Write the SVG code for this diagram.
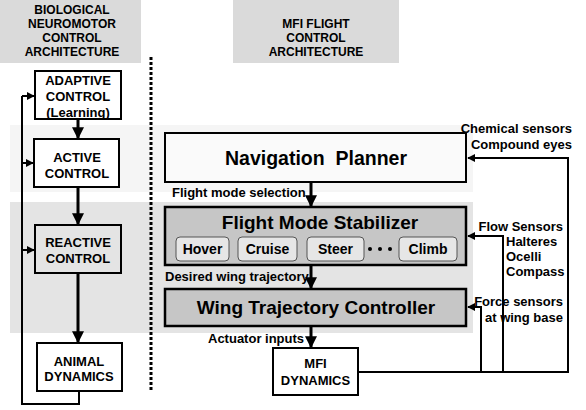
<svg xmlns="http://www.w3.org/2000/svg" width="586" height="410" viewBox="0 0 586 410">
<defs>
<style>
text{font-family:"Liberation Sans",Arial,sans-serif;font-weight:bold;fill:#000}
.hd{font-size:12px;text-anchor:middle}
.nt{font-size:13px;text-anchor:middle}
.big{font-size:19px;text-anchor:middle}
.sub{font-size:14px;text-anchor:middle}
.lb{font-size:13px}
.box{fill:#fff;stroke:#000;stroke-width:2}
.gbox{fill:#c6c6c6;stroke:#000;stroke-width:2.5}
.sbox{fill:#e6e6e6;stroke:#555;stroke-width:1}
.thick{stroke:#000;stroke-width:3;fill:none}
.thin{stroke:#000;stroke-width:2;fill:none}
</style>
<marker id="ah" viewBox="0 0 10 10" refX="9" refY="5" markerWidth="4" markerHeight="4" orient="auto" markerUnits="strokeWidth"><path d="M0,0 L10,5 L0,10 z" fill="#000"/></marker>
<marker id="ahs" viewBox="0 0 10 10" refX="9" refY="5" markerWidth="4" markerHeight="4" orient="auto" markerUnits="strokeWidth"><path d="M0,0 L10,5 L0,10 z" fill="#000"/></marker>
</defs>

<!-- background bands -->
<rect x="0" y="0" width="141" height="63" fill="#dadada"/>
<rect x="233" y="0" width="166" height="63" fill="#dadada"/>
<rect x="10" y="125" width="463" height="67" fill="#f5f5f5"/>
<rect x="10" y="202" width="463" height="131" fill="#e4e4e4"/>

<g id="hdr-left">
<text class="hd" x="72" y="14">BIOLOGICAL</text>
<text class="hd" x="72" y="28">NEUROMOTOR</text>
<text class="hd" x="72" y="42">CONTROL</text>
<text class="hd" x="72" y="56">ARCHITECTURE</text>
</g>
<g id="hdr-right">
<text class="hd" x="316" y="28">MFI FLIGHT</text>
<text class="hd" x="316" y="42">CONTROL</text>
<text class="hd" x="316" y="56">ARCHITECTURE</text>
</g>

<line x1="151" y1="57" x2="151" y2="392" stroke="#000" stroke-width="3" stroke-dasharray="3 2"/>

<g id="connectors">
<line class="thick" x1="78" y1="119" x2="78" y2="138" marker-end="url(#ah)"/>
<line class="thick" x1="78" y1="187" x2="78" y2="224" marker-end="url(#ah)"/>
<line class="thick" x1="78" y1="273" x2="78" y2="342" marker-end="url(#ah)"/>
<path class="thin" d="M79,391 V404 H22 V96"/>
<line class="thin" x1="22" y1="96" x2="34" y2="96" marker-end="url(#ahs)"/>
<line class="thin" x1="22" y1="163" x2="33" y2="163" marker-end="url(#ahs)"/>
<line class="thin" x1="22" y1="250" x2="34" y2="250" marker-end="url(#ahs)"/>

<line class="thick" x1="311" y1="182" x2="311" y2="206" marker-end="url(#ah)"/>
<line class="thick" x1="311" y1="265" x2="311" y2="288" marker-end="url(#ah)"/>
<line class="thick" x1="311" y1="326" x2="311" y2="347" marker-end="url(#ah)"/>

<path class="thin" d="M358,372 H568 V158 H468" marker-end="url(#ahs)"/>
<path class="thin" d="M503,372 V236 H468" marker-end="url(#ahs)"/>
<path class="thin" d="M481,372 V307 H468" marker-end="url(#ahs)"/>
</g>

<g id="adaptive">
<rect class="box" x="35" y="71" width="86" height="48"/>
<text class="nt" x="78" y="85">ADAPTIVE</text>
<text class="nt" x="78" y="101">CONTROL</text>
<text class="nt" x="78" y="117" style="font-weight:bold">(Learning)</text>
</g>
<g id="active">
<rect class="box" x="34" y="139" width="85" height="48"/>
<text class="nt" x="77" y="162">ACTIVE</text>
<text class="nt" x="77" y="178">CONTROL</text>
</g>
<g id="reactive">
<rect class="box" x="35" y="225" width="86" height="48" style="fill:#e4e4e4"/>
<text class="nt" x="78" y="247">REACTIVE</text>
<text class="nt" x="78" y="263">CONTROL</text>
</g>
<g id="animal">
<rect class="box" x="37" y="343" width="85" height="48"/>
<text class="nt" x="79" y="366">ANIMAL</text>
<text class="nt" x="79" y="381">DYNAMICS</text>
</g>

<g id="nav">
<rect class="box" x="165" y="133" width="301" height="49" style="fill:#fafafa"/>
<text class="big" x="316" y="165" style="font-size:19.5px" xml:space="preserve">Navigation  Planner</text>
</g>
<g id="fms">
<rect class="gbox" x="165" y="207" width="301" height="58"/>
<text class="big" x="320" y="229">Flight Mode Stabilizer</text>
<rect class="sbox" x="176" y="237" width="53" height="24" rx="4"/>
<text class="sub" x="202.5" y="254">Hover</text>
<rect class="sbox" x="238" y="237" width="59" height="24" rx="4"/>
<text class="sub" x="267.5" y="254">Cruise</text>
<rect class="sbox" x="307" y="237" width="57" height="24" rx="4"/>
<text class="sub" x="335.5" y="254">Steer</text>
<circle cx="370" cy="249" r="2" fill="#000"/>
<circle cx="380" cy="249" r="2" fill="#000"/>
<circle cx="390" cy="249" r="2" fill="#000"/>
<rect class="sbox" x="399" y="237" width="58" height="24" rx="4"/>
<text class="sub" x="428" y="254">Climb</text>
</g>
<g id="wtc">
<rect class="gbox" x="165" y="289" width="301" height="37"/>
<text class="big" x="316" y="314">Wing Trajectory Controller</text>
</g>
<g id="mfi">
<rect class="box" x="273" y="348" width="85" height="47"/>
<text class="nt" x="315.5" y="368">MFI</text>
<text class="nt" x="315.5" y="385">DYNAMICS</text>
</g>

<g id="labels">
<text class="lb" x="172" y="197">Flight mode selection</text>
<text class="lb" x="165" y="281">Desired wing trajectory</text>
<text class="lb" x="208" y="343">Actuator inputs</text>
<text class="lb" x="572" y="133" text-anchor="end">Chemical sensors</text>
<text class="lb" x="572" y="149" text-anchor="end">Compound eyes</text>
<text class="lb" x="563" y="231" text-anchor="end">Flow Sensors</text>
<text class="lb" x="506" y="246">Halteres</text>
<text class="lb" x="506" y="261">Ocelli</text>
<text class="lb" x="506" y="276">Compass</text>
<text class="lb" x="563" y="306" text-anchor="end">Force sensors</text>
<text class="lb" x="563" y="322" text-anchor="end">at wing base</text>
</g>
</svg>
